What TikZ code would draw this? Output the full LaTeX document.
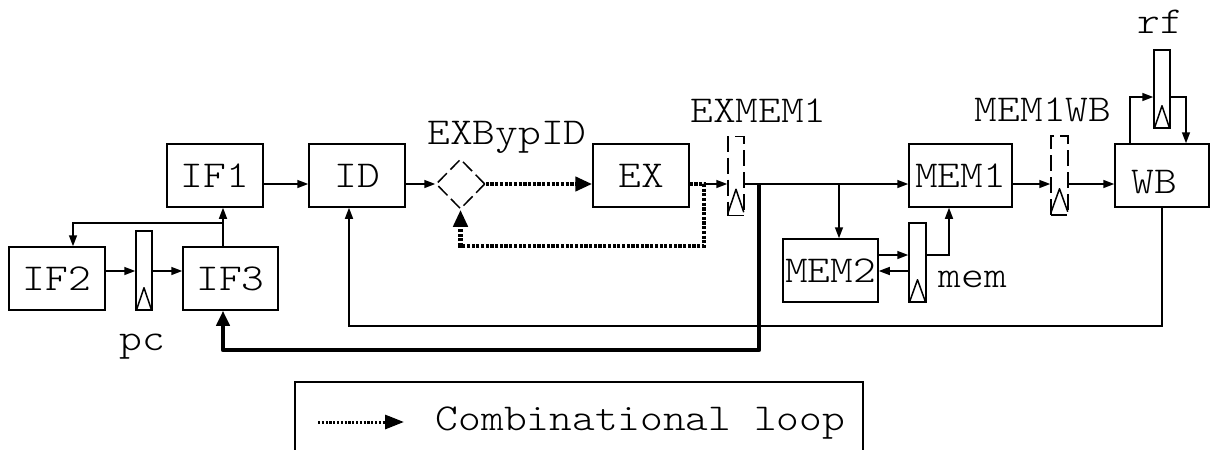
\documentclass[tikz,border=0pt]{standalone}
\usepackage{fontspec}
\setmonofont[FakeStretch=1.14]{lmmonolt10-regular.otf}
\usetikzlibrary{arrows.meta,shapes.geometric}
\tikzset{
  stage/.style={draw, line width=1.5pt, inner sep=0pt, minimum height=63pt},
  regbox/.style={draw, line width=1.5pt, inner sep=0pt, minimum width=16pt, minimum height=79pt},
  dashreg/.style={regbox, dash pattern=on 16pt off 6pt},
  wire/.style={line width=1.5pt, -{Triangle[length=11pt,width=8pt]}},
  combwire/.style={line width=4.5pt, dash pattern=on 3.2pt off 1.5pt},
  combarrow/.style={combwire, -{Triangle[length=17pt,width=14pt]}},
  legendcomb/.style={line width=3pt, dash pattern=on 2.2pt off 1.6pt, -{Triangle[length=19pt,width=14pt]}},
  fbwire/.style={line width=4.5pt, line join=round, -{Triangle[length=15pt,width=13pt]}},
  lbl/.style={anchor=base, inner sep=0pt},
  clocktri/.style={line width=1.5pt, line join=round},
}
% clock symbol at the foot of a register: #1 register node, #2 lift of its base
\newcommand\clockmark[2]{\draw[clocktri] ([shift={(1pt,#2)}]#1.south west) -- ([yshift=#2+23pt]#1.south) -- ([shift={(-1pt,#2)}]#1.south east);}

\begin{document}
\begin{tikzpicture}[x=1pt, y=-1pt, font=\ttfamily\fontsize{38}{40}\selectfont]
\useasboundingbox (0,0) rectangle (1211,450);

% pipeline stages
\node[stage, minimum width=96pt] (IF1) at (215,175.5) {IF1};
\node[stage, minimum width=96pt] (IF2) at (57,278.5) {IF2};
\node[stage, minimum width=95pt] (IF3) at (230.5,278.5) {IF3};
\node[stage, minimum width=96pt] (ID) at (357,175.5) {ID};
\node[stage, minimum width=96pt] (EX) at (641,175.5) {EX};
\node[stage, minimum width=103pt] (MEM1) at (960.5,175.5) {MEM1};
\node[stage, minimum width=95pt] (MEM2) at (830.5,270.5) {MEM2};
\node[stage, minimum width=94pt, label={[name=WBtext, xshift=-8pt, yshift=-7pt]center:WB}] (WB) at (1162,175.5) {};

% bypass mux
\node[draw, diamond, line width=1.5pt, dash pattern=on 13pt off 5pt, minimum width=49pt, minimum height=50pt, inner sep=0pt] (byp) at (460.5,184) {};

% registers
\node[regbox] (pc) at (144,270.5) {};
\node[dashreg] (EXMEM1) at (736,176) {};
\node[dashreg, minimum width=17pt] (MEM1WB) at (1059.5,175.5) {};
\node[regbox, minimum width=17pt] (mem) at (917.5,262.5) {};
\node[regbox, minimum height=78pt] (rf) at (1162,89) {};
\clockmark{pc}{0pt}
\clockmark{EXMEM1}{4pt}
\clockmark{MEM1WB}{4pt}
\clockmark{mem}{0pt}
\clockmark{rf}{0pt}

% register names
\node[lbl] (pcname) at (142.5,350) {pc};
\node[lbl] (bypname) at (507,144) {EXBypID};
\node[lbl] (exmemname) at (758.5,122) {EXMEM1};
\node[lbl] (memwbname) at (1043,121) {MEM1WB};
\node[lbl] (rfname) at (1160.5,33) {rf};
\node[lbl] (memname) at (973,287) {mem};

% routing helpers
\coordinate (mainy) at (0,184);
\coordinate (fetchx) at (223,0);
\coordinate (splity) at (223,223);
\coordinate (if2x) at (73,0);
\coordinate (ify) at (0,271);
\coordinate (idx) at (349,0);
\coordinate (wby) at (0,326);
\coordinate (exj) at (704,184);
\coordinate (loopc) at (704,246);
\coordinate (fbtop) at (759,184);
\coordinate (fby) at (0,350);
\coordinate (m2j) at (839,184);
\coordinate (memya) at (0,255);
\coordinate (memyb) at (0,271);
\coordinate (memout) at (949,255);
\coordinate (rfy) at (0,97);
\coordinate (wbouta) at (1130,0);
\coordinate (wbina) at (1186,0);

% datapath
\draw[wire] (IF1.east |- mainy) -- (ID.west |- mainy);
\draw[wire] (ID.east |- mainy) -- (byp.west);
\draw[combarrow] (byp.east) -- (EX.west |- mainy);
\draw[combarrow] (EX.east |- mainy) -- (exj) -- (loopc) -- (loopc -| byp.south) -- (byp.south);
\draw[wire] (exj) -- (EXMEM1.west |- mainy);
\draw[wire] (EXMEM1.east |- mainy) -- (MEM1.west |- mainy);
\draw[wire] (m2j) -- (MEM2.north -| m2j);
\draw[fbwire] (fbtop) -- (fbtop |- fby) -- (fetchx |- fby) -- (fetchx |- IF3.south);
\draw[wire] (fetchx |- IF3.north) -- (fetchx |- IF1.south);
\draw[wire] (splity) -- (if2x |- splity) -- (if2x |- IF2.north);
\draw[wire] (IF2.east |- ify) -- (pc.west |- ify);
\draw[wire] (pc.east |- ify) -- (IF3.west |- ify);
\draw[wire] (MEM2.east |- memya) -- (mem.west |- memya);
\draw[wire] (mem.west |- memyb) -- (MEM2.east |- memyb);
\draw[wire] (mem.east |- memya) -- (memout) -- (memout |- MEM1.south);
\draw[wire] (MEM1.east |- mainy) -- (MEM1WB.west |- mainy);
\draw[wire] (MEM1WB.east |- mainy) -- (WB.west |- mainy);
\draw[wire] (wbouta |- WB.north) -- (wbouta |- rfy) -- (rf.west |- rfy);
\draw[wire] (rf.east |- rfy) -- (wbina |- rfy) -- (wbina |- WB.north);
\draw[wire] (WB.south) -- (WB.south |- wby) -- (idx |- wby) -- (idx |- ID.south);

% legend
\node[draw, line width=1.5pt, anchor=north west, minimum width=568pt, minimum height=100pt, inner sep=0pt] (legend) at (294,381) {};
\coordinate (lga) at (318,422);
\coordinate (lgb) at (404,422);
\draw[legendcomb] (lga) -- (lgb);
\node[lbl] (legendtext) at (640.5,430) {Combinational loop};
\end{tikzpicture}
\end{document}
